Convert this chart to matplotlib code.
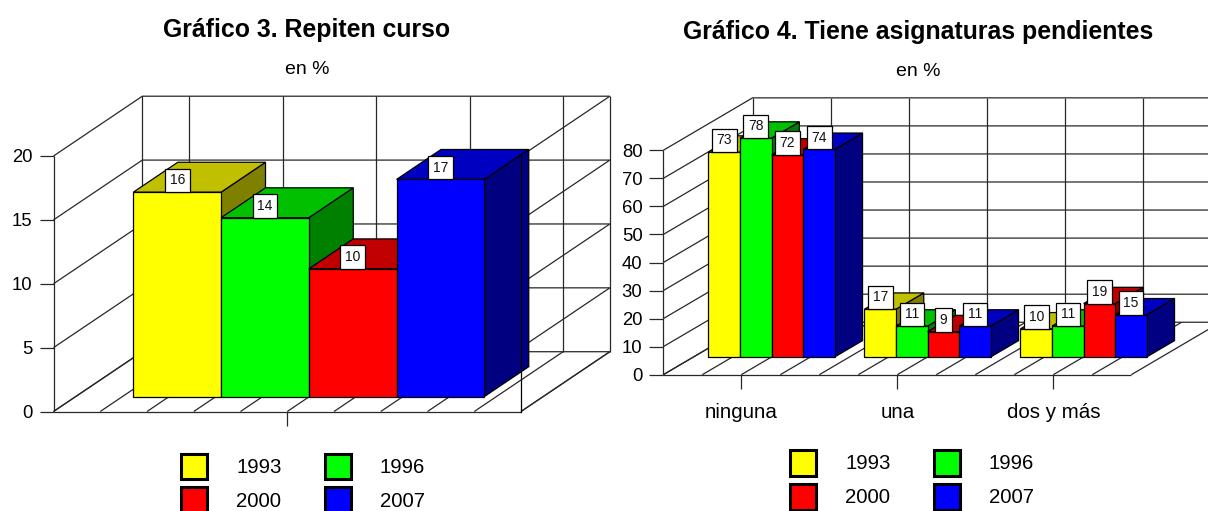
import matplotlib
matplotlib.use('Agg')
import matplotlib.pyplot as plt
from matplotlib.patches import Patch, Polygon

plt.rcParams['font.family'] = ['Liberation Sans', 'DejaVu Sans']

anios = ['1993', '1996', '2000', '2007']
frente = ['#ffff00', '#00ff00', '#ff0000', '#0000ff']
tope = ['#c0c000', '#00c000', '#c00000', '#0000c0']
lado = ['#808000', '#008000', '#800000', '#000080']

# grafico 3
repiten = [16, 14, 10, 17]
ticks_rep = [0, 5, 10, 15, 20]

# grafico 4, una lista por categoria
categorias = ['ninguna', 'una', 'dos y más']
ninguna = [73, 78, 72, 74]
una = [17, 11, 9, 11]
dos_mas = [10, 11, 19, 15]
ticks_pend = [0, 10, 20, 30, 40, 50, 60, 70, 80]

W, H = 1208, 511
LINEA = '#282828'
LW = 0.9


def eje(fig, x0, x1, y_top, y_bot, xmax, ymax):
    ax = fig.add_axes([x0 / W, 1 - y_bot / H, (x1 - x0) / W, (y_bot - y_top) / H])
    ax.set_xlim(0, xmax)
    ax.set_ylim(0, ymax)
    ax.patch.set_visible(False)
    for s in ax.spines.values():
        s.set_visible(False)
    ax.tick_params(length=10, width=LW, color=LINEA, pad=5, labelsize=13.3)
    return ax


def caja(ax, xmax, ymax, ticks, dx, dy, verticales, pared_der):
    # paredes y suelo, detras de las barras
    kw = dict(color=LINEA, lw=LW, clip_on=False, zorder=1, solid_capstyle='butt')
    for v in ticks:
        ax.plot([0, dx, xmax + dx], [v, v + dy, v + dy], **kw)
        if pared_der:
            ax.plot([xmax, xmax + dx], [v, v + dy], **kw)
    for k in verticales:
        ax.plot([k + dx, k + dx], [dy, ymax + dy], **kw)
    for k in range(xmax + 1):
        ax.plot([k, k + dx], [0, dy], **kw)
    ax.plot([0, xmax], [0, 0], **kw)
    ax.plot([0, 0], [0, ymax], **kw)
    if pared_der:
        ax.plot([xmax, xmax], [0, ymax], color='black', lw=LW, clip_on=False, zorder=50)


def barra(ax, x, ancho, valor, i, dx, dy, d0, d1, z):
    bx = x + d0 * dx
    by = d0 * dy
    px = (d1 - d0) * dx
    py = (d1 - d0) * dy
    kw = dict(edgecolor='black', lw=0.9, clip_on=False, zorder=z, joinstyle='miter')
    ax.add_patch(Polygon([(bx + ancho, by), (bx + ancho + px, by + py),
                          (bx + ancho + px, by + py + valor), (bx + ancho, by + valor)],
                         facecolor=lado[i], **kw))
    ax.add_patch(Polygon([(bx, by + valor), (bx + ancho, by + valor),
                          (bx + ancho + px, by + py + valor), (bx + px, by + py + valor)],
                         facecolor=tope[i], **kw))
    ax.add_patch(Polygon([(bx, by), (bx + ancho, by), (bx + ancho, by + valor), (bx, by + valor)],
                         facecolor=frente[i], **kw))
    ax.annotate(str(valor), (bx + ancho / 2, by + valor), xytext=(0, 3.4),
                textcoords='offset points', ha='center', va='bottom', fontsize=10,
                color='#111111', zorder=100, annotation_clip=False,
                bbox=dict(boxstyle='square,pad=0.34', fc='white', ec='black', lw=0.9))


def leyenda(ax, x, y):
    handles = [Patch(facecolor=c, edgecolor='black', lw=2.2) for c in frente]
    orden = [0, 2, 1, 3]
    ax.legend([handles[i] for i in orden], [anios[i] for i in orden], ncol=2, frameon=False,
              loc='upper left', bbox_to_anchor=(x / W, 1 - y / H), bbox_transform=ax.figure.transFigure,
              borderaxespad=0, borderpad=0, fontsize=14.7, handlelength=1.28, handleheight=1.58,
              handletextpad=1.43, columnspacing=2.1, labelspacing=0.39)


fig = plt.figure(figsize=(W / 100, H / 100), dpi=100)

# Grafico 3
ax1 = eje(fig, 53.5, 521, 156, 411.5, 10, 20)
dx1, dy1 = 1.9, 4.68
caja(ax1, 10, 20, ticks_rep, dx1, dy1, [0, 1, 3, 5, 7, 9, 10], True)
for i, v in enumerate(repiten):
    barra(ax1, 1.233 + i * 1.877, 1.877, v, i, dx1, dy1, 0.25, 0.75, 10 + i)
ax1.set_yticks(ticks_rep)
ax1.set_xticks([5])
ax1.set_xticklabels([''])
leyenda(ax1, 181, 453.5)

# Grafico 4
ax2 = eje(fig, 663.3, 1131.3, 150.3, 374.7, 12, 80)
dx2, dy2 = 2.29, 18.7
caja(ax2, 12, 80, ticks_pend, dx2, dy2, [0, 2, 4, 6, 8, 10, 12], False)
z = 10
for c, grupo in enumerate([ninguna, una, dos_mas]):
    for i, v in enumerate(grupo):
        barra(ax2, 4 * c + 0.38 + i * 0.81, 0.81, v, i, dx2, dy2, 0.34, 0.65, z)
        z += 1
ax2.set_yticks(ticks_pend)
ax2.set_xticks([2, 6, 10])
ax2.set_xticklabels(categorias)
ax2.tick_params(axis='x', labelsize=14.8, pad=10.6)
leyenda(ax2, 790, 449.8)

fig.text(307 / W, 1 - 30 / H, 'Gráfico 3. Repiten curso', ha='center', va='center', fontsize=17.9, fontweight='bold')
fig.text(307 / W, 1 - 70 / H, 'en %', ha='center', va='center', fontsize=14)
fig.text(918 / W, 1 - 32 / H, 'Gráfico 4. Tiene asignaturas pendientes', ha='center', va='center', fontsize=17.9, fontweight='bold')
fig.text(918 / W, 1 - 72 / H, 'en %', ha='center', va='center', fontsize=14)

fig.savefig('out.png', dpi=100)
